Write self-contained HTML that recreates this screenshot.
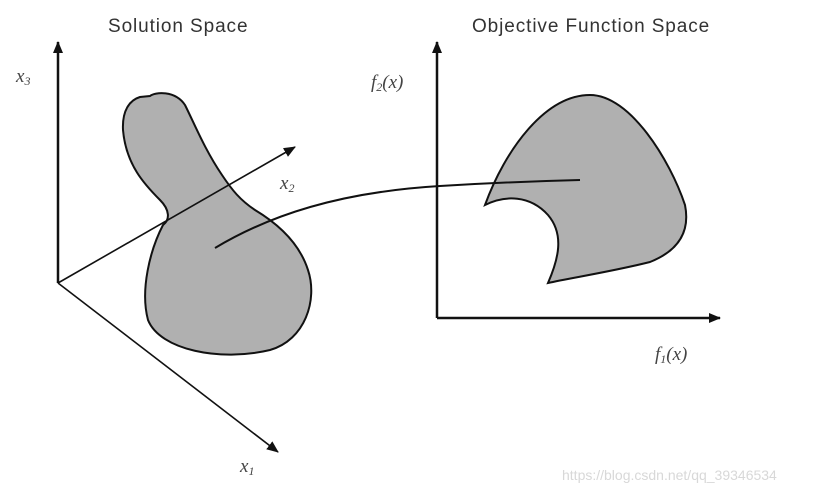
<!DOCTYPE html>
<html><head><style>body{margin:0;background:#fff}svg{display:block}</style></head><body>
<svg width="814" height="494" viewBox="0 0 814 494" xmlns="http://www.w3.org/2000/svg">
<defs><marker id="a" markerWidth="12" markerHeight="10" refX="11" refY="5" orient="auto" markerUnits="userSpaceOnUse"><path d="M0,0 L12,5 L0,10 Z" fill="#111"/></marker></defs>
<g font-family="Liberation Sans, sans-serif" font-size="19" fill="#333" letter-spacing="0.9">
<text x="108" y="32">Solution Space</text>
<text x="472" y="32">Objective Function Space</text>
</g>
<g font-family="Liberation Serif, serif" font-style="italic" font-size="19" fill="#444">
<text x="16" y="82">x<tspan font-size="12" dy="3">3</tspan></text>
<text x="280" y="189">x<tspan font-size="12" dy="3">2</tspan></text>
<text x="240" y="472">x<tspan font-size="12" dy="3">1</tspan></text>
<text x="371" y="88">f<tspan font-size="12" dy="3">2</tspan><tspan dy="-3">(x)</tspan></text>
<text x="655" y="360">f<tspan font-size="12" dy="3">1</tspan><tspan dy="-3">(x)</tspan></text>
</g>
<path d="M140,97 C130,100 122,110 123,130 C126,165 145,185 160,200 C170,210 170,220 163,225 C150,250 140,290 148,320 C160,350 220,362 270,350 C305,340 318,300 308,270 C300,245 280,225 255,210 C240,200 232,190 222,175 C205,150 195,125 185,105 C175,90 155,92 150,96 Z" fill="#b0b0b0" stroke="#111" stroke-width="2"/>
<path d="M485,205 C505,150 545,95 590,95 C630,95 670,160 685,205 C690,230 680,250 650,262 C610,272 570,278 548,283 C558,260 565,235 548,215 C530,195 505,195 485,205 Z" fill="#b0b0b0" stroke="#111" stroke-width="2"/>
<g stroke="#111" fill="none">
<line x1="58" y1="283" x2="58" y2="42" stroke-width="2.5" marker-end="url(#a)"/>
<line x1="58" y1="283" x2="278" y2="452" stroke-width="1.6" marker-end="url(#a)"/>
<line x1="58" y1="283" x2="295" y2="147" stroke-width="1.6" marker-end="url(#a)"/>
<line x1="437" y1="318" x2="437" y2="42" stroke-width="2.5" marker-end="url(#a)"/>
<line x1="437" y1="318" x2="720" y2="318" stroke-width="2.5" marker-end="url(#a)"/>
<path d="M215,248 C270,215 340,192 440,186 C490,183 540,181 580,180" stroke-width="2"/>
</g>
<text x="562" y="480" font-family="Liberation Sans, sans-serif" font-size="14" fill="#d8d8d8">https://blog.csdn.net/qq_39346534</text>
</svg>
</body></html>
